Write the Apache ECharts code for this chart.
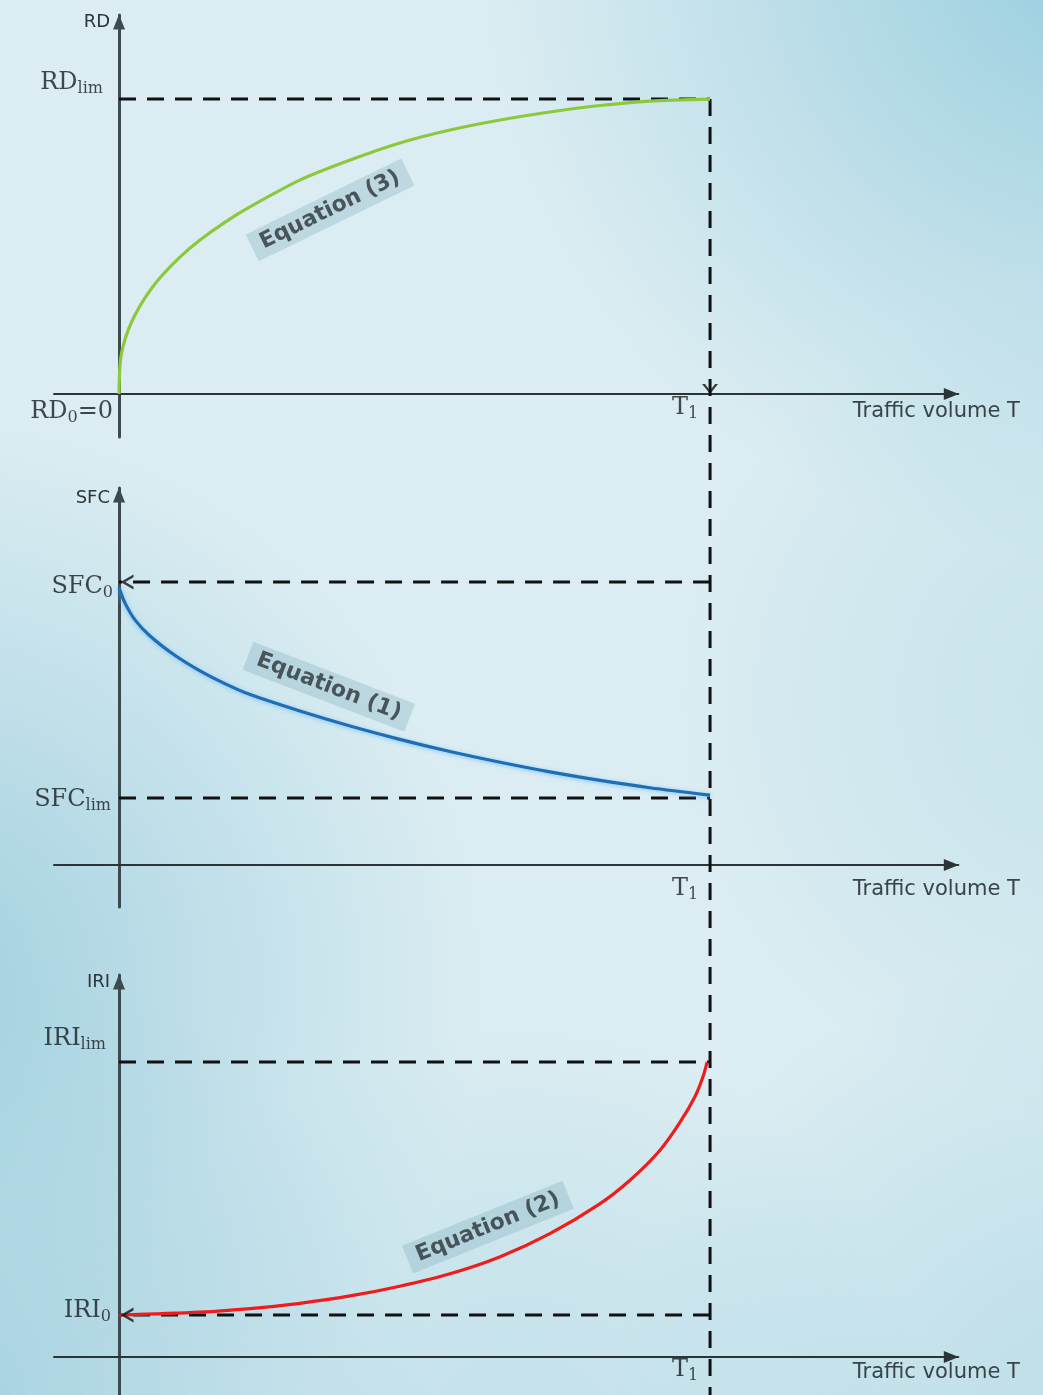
<!DOCTYPE html>
<html><head><meta charset="utf-8">
<script src="https://cdn.jsdelivr.net/npm/echarts@6/dist/echarts.min.js"></script>
<style>html,body{margin:0;padding:0;}#c{width:1043px;height:1395px;}</style>
</head><body><div id="c"></div>
<script>
// ---- data (conceptual units; T1 = 10, limits = 10) ----
const T1 = 10;
const xRange = [-1.1, 14.2];

// Panel 1: rut depth RD, Equation (3)
const rdT      = [0, 0.02, 0.07, 0.15, 0.27, 0.44, 0.69, 1.03, 1.37, 1.79, 2.22, 3.06, 3.91, 4.75, 5.60, 6.45, 7.29, 8.14, 8.98, 10];
const rdValues = [0, 1.07, 1.62, 2.14, 2.68, 3.26, 3.93, 4.64, 5.22, 5.82, 6.35, 7.25, 7.93, 8.51, 8.95, 9.29, 9.56, 9.78, 9.93, 10];
const rdLevels = {zero: 0, lim: 10};

// Panel 2: skid friction SFC, Equation (1)
const sfcT      = [0, 0.10, 0.27, 0.52, 0.95, 1.37, 1.80, 2.22, 3.06, 3.91, 4.75, 5.60, 6.45, 7.29, 8.14, 8.98, 10];
const sfcValues = [9.8, 9.26, 8.66, 8.10, 7.40, 6.86, 6.40, 6.02, 5.44, 4.91, 4.44, 4.01, 3.63, 3.29, 2.99, 2.73, 2.47];
const sfcLevels = {start: 10, lim: 2.37};

// Panel 3: roughness IRI, Equation (2)
const iriT      = [0, 1.37, 2.22, 3.06, 3.91, 4.75, 5.60, 6.45, 7.29, 8.14, 8.65, 9.15, 9.49, 9.75, 9.88, 9.95];
const iriValues = [1.42, 1.52, 1.64, 1.82, 2.07, 2.40, 2.82, 3.40, 4.18, 5.20, 6.0, 7.0, 7.95, 8.85, 9.5, 10];
const iriLevels = {start: 1.42, lim: 10};

// texts
const axisNames = ['RD', 'SFC', 'IRI'];
const xAxisName = 'Traffic volume T';
const rdTickLabels  = ['{m|RD}{s|lim}', '{m|RD}{s|0}{m|=0}'];
const sfcTickLabels = ['{m|SFC}{s|0}', '{m|SFC}{s|lim}'];
const iriTickLabels = ['{m|IRI}{s|lim}', '{m|IRI}{s|0}'];
const t1Label = '{m|T}{s|1}';
const equationLabels = ['Equation (3)', 'Equation (1)', 'Equation (2)'];

// ---- layout / style ----
const yRanges = [[-1.46, 12.85], [-1.484, 13.32], [-1.288, 12.95]];
const grids = [
  {left: 54, right: 84.7, top: 15,  height: 422},
  {left: 54, right: 84.7, top: 488, height: 419},
  {left: 54, right: 84.7, top: 975, height: 420},
  // full-height helper grid for the T1 guide line (top = RDlim level, bottom = picture bottom)
  {left: 54, right: 84.7, top: 99,  height: 1296}
];
const DASH = [17, 11];
const dashStyle = {color: '#111', width: 3, type: DASH};
const serif = 'DejaVu Serif';
const rich = {
  m: {fontFamily: serif, fontSize: 24, color: '#151b1e', lineHeight: 28},
  s: {fontFamily: serif, fontSize: 16, color: '#151b1e', lineHeight: 18, verticalAlign: 'bottom'}
};
const chevLeft = 'path://M12,0 L0,8 L12,16 L12,13 L4.5,8 L12,3 Z';
const chevDown = 'path://M0,0 L8,10 L16,0 L13,0 L8,6.5 L3,0 Z';

const xAxes = grids.slice(0, 3).map((g, i) => ({
  type: 'value', gridIndex: i, min: xRange[0], max: xRange[1],
  axisLine: {onZero: true, lineStyle: {color: '#2b3538', width: 2}, symbol: ['none', 'triangle'], symbolSize: [12, 15], symbolOffset: [0, -7]},
  axisTick: {show: false}, axisLabel: {show: false}, splitLine: {show: false},
  name: xAxisName, nameLocation: 'end', nameGap: -22,
  nameTextStyle: {fontFamily: 'DejaVu Sans', fontSize: 21, color: '#3a4448', align: 'center', verticalAlign: 'top', padding: [i === 1 ? 14 : (i === 2 ? 5 : 7), 0, 0, 0]}
}));
xAxes.push({type: 'value', gridIndex: 3, min: xRange[0], max: xRange[1], show: false});
const yAxes = grids.slice(0, 3).map((g, i) => ({
  type: 'value', gridIndex: i, min: yRanges[i][0], max: yRanges[i][1],
  axisLine: {onZero: true, lineStyle: {color: '#3c4a4e', width: 3}, symbol: ['none', 'triangle'], symbolSize: [12, 15], symbolOffset: [0, -7]},
  axisTick: {show: false}, axisLabel: {show: false}, splitLine: {show: false},
  name: axisNames[i], nameLocation: 'end', nameGap: i === 1 ? -10 : -7,
  nameTextStyle: {fontFamily: 'DejaVu Sans', fontSize: 18, color: '#2c3538', align: 'right', verticalAlign: 'middle', padding: [0, 9, 0, 0]}
}));
yAxes.push({type: 'value', gridIndex: 3, min: 0, max: 1, show: false});

function curve(i, xs, ys, color, extra) {
  return Object.assign({
    type: 'line', xAxisIndex: i, yAxisIndex: i, smooth: 0.3, showSymbol: false, silent: true, z: 4,
    data: xs.map((x, k) => [x, ys[k]]),
    lineStyle: {color: color, width: 3.2}
  }, extra || {});
}
function dashed(i, pts, extra) {
  return Object.assign({
    type: 'line', xAxisIndex: i, yAxisIndex: i, showSymbol: false, silent: true, z: 3,
    data: pts, lineStyle: dashStyle
  }, extra || {});
}
function marks(i, items) {
  return {type: 'scatter', xAxisIndex: i, yAxisIndex: i, silent: true, z: 6, data: items};
}
function tickLabel(x, y, text, offset, align) {
  return {value: [x, y], symbolSize: 1, itemStyle: {color: 'transparent'},
    label: {show: true, position: 'inside', formatter: text, rich: rich, align: align || 'right', verticalAlign: 'middle', offset: offset}};
}
function eqLabel(x, y, text, rot) {
  return {value: [x, y], symbolSize: 1, itemStyle: {color: 'transparent'},
    label: {show: true, position: 'inside', formatter: text, rotate: rot,
      fontFamily: 'DejaVu Sans', fontWeight: 'bold', fontSize: 22, color: '#2a3538',
      backgroundColor: 'rgba(110,160,180,0.35)', padding: [4, 10, 4, 10]}};
}
function arrow(x, y, sym, size, off) {
  return {value: [x, y], symbol: sym, symbolSize: size, symbolOffset: off, itemStyle: {color: '#111'}};
}

const series = [
  // T1 guide line through all three panels
  dashed(3, [[T1, 1], [T1, 0]]),
  // panel 1
  curve(0, rdT, rdValues, '#8cc83c'),
  dashed(0, [[0, rdLevels.lim], [T1, rdLevels.lim]]),
  marks(0, [
    arrow(T1, rdLevels.zero, chevDown, [16, 10], [0, -5]),
    tickLabel(0, rdLevels.lim, rdTickLabels[0], [-16, -16]),
    tickLabel(0, rdLevels.zero, rdTickLabels[1], [-6, 18]),
    tickLabel(T1, 0, t1Label, [-25, 14], 'center'),
    eqLabel(3.57, 6.24, equationLabels[0], 26)
  ]),
  // panel 2
  curve(1, sfcT, sfcValues, '#1f6db3', {lineStyle: {color: '#1f6db3', width: 3.2, shadowColor: 'rgba(90,180,255,0.7)', shadowBlur: 4, shadowOffsetY: 1}}),
  dashed(1, [[T1, sfcLevels.start], [0, sfcLevels.start]]),
  dashed(1, [[0, sfcLevels.lim], [T1, sfcLevels.lim]]),
  marks(1, [
    arrow(0, sfcLevels.start, chevLeft, [13, 15], [8, 0]),
    tickLabel(0, sfcLevels.start, sfcTickLabels[0], [-6, 5]),
    tickLabel(0, sfcLevels.lim, sfcTickLabels[1], [-8, 2]),
    tickLabel(T1, 0, t1Label, [-25, 24], 'center'),
    eqLabel(3.55, 6.3, equationLabels[1], -21)
  ]),
  // panel 3
  curve(2, iriT, iriValues, '#ee1c1c'),
  dashed(2, [[0, iriLevels.lim], [T1, iriLevels.lim]]),
  dashed(2, [[T1, iriLevels.start], [0, iriLevels.start]]),
  marks(2, [
    arrow(0, iriLevels.start, chevLeft, [13, 15], [8, 0]),
    tickLabel(0, iriLevels.lim, iriTickLabels[0], [-13, -23]),
    tickLabel(0, iriLevels.start, iriTickLabels[1], [-8, -4]),
    tickLabel(T1, 0, t1Label, [-25, 13], 'center'),
    eqLabel(6.24, 4.4, equationLabels[2], 22)
  ])
];

// background: light centre with darker blue patches (decoration only)
function radial(cx, cy, r, color) {
  return {type: 'circle', silent: true, z: -10, shape: {cx: cx, cy: cy, r: r},
    style: {fill: {type: 'radial', x: 0.5, y: 0.5, r: 0.5, colorStops: [
      {offset: 0, color: color}, {offset: 1, color: 'rgba(160,208,224,0)'}]}}};
}
const chart = echarts.init(document.getElementById('c'), null, {renderer: 'canvas'});
chart.setOption({
  animation: false,
  backgroundColor: '#dbedf2',
  graphic: [
    radial(1100, -60, 620, 'rgba(150,205,222,1)'),
    radial(-80, 980, 560, 'rgba(158,206,222,0.95)'),
    radial(-60, 1450, 500, 'rgba(160,206,222,0.9)'),
    radial(1100, 1450, 500, 'rgba(175,215,228,0.7)'),
    radial(1100, 700, 420, 'rgba(185,220,232,0.5)'),
    radial(520, 1450, 420, 'rgba(180,216,228,0.6)')
  ],
  grid: grids,
  xAxis: xAxes,
  yAxis: yAxes,
  series: series
});
</script>
</body></html>
